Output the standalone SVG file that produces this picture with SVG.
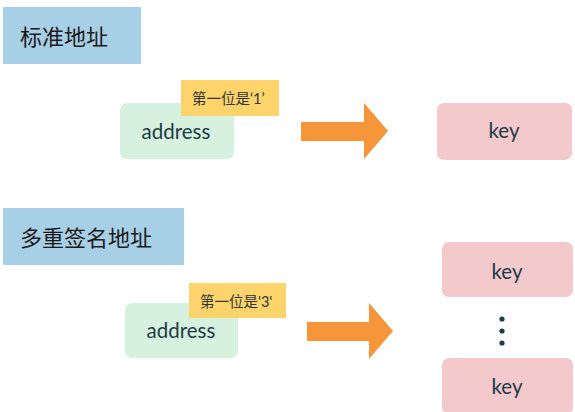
<svg xmlns="http://www.w3.org/2000/svg" width="575" height="412" viewBox="0 0 575 412">
<style>
.title{fill:#a7cfe6}
.titletext{font-family:"Noto Sans CJK SC","Noto Sans",sans-serif;font-size:22px;fill:#1a1a1a}
.addr{fill:#d6f2df}
.tag{fill:#fdd46b}
.tagtext{font-family:"Noto Sans CJK SC","Lato",sans-serif;font-size:14.5px;fill:#333}
.q{font-family:"Lato",sans-serif}
.key{fill:#f4c9cc}
.lbl{font-family:"Lato","Noto Sans",sans-serif;font-size:20.5px;fill:#1d3a47;text-anchor:middle}
.arrow{fill:#f7953a}
.dot{fill:#1d3a47}
</style>
<rect width="575" height="412" fill="#ffffff"/>
<g id="title1">
<rect class="title" x="3" y="7" width="138" height="57"/>
<text class="titletext" x="20" y="45">标准地址</text>
</g>
<g id="address1">
<rect class="addr" x="120" y="103" width="114" height="56" rx="7"/>
<text class="lbl" x="176" y="139">address</text>
</g>
<g id="tag1">
<rect class="tag" x="181" y="80" width="98" height="36"/>
<text class="tagtext" x="192" y="104">第一位是<tspan class="q">‘1’</tspan></text>
</g>
<g id="key1">
<rect class="key" x="437" y="103" width="135" height="57" rx="7"/>
<text class="lbl" x="504" y="138">key</text>
</g>
<g id="title2">
<rect class="title" x="3" y="208" width="181" height="57"/>
<text class="titletext" x="20" y="246">多重签名地址</text>
</g>
<g id="address2">
<rect class="addr" x="125" y="303" width="113" height="55" rx="7"/>
<text class="lbl" x="181" y="338">address</text>
</g>
<g id="tag2">
<rect class="tag" x="189" y="283" width="97" height="35"/>
<text class="tagtext" x="200" y="307">第一位是<tspan class="q">'3'</tspan></text>
</g>
<g id="key2">
<rect class="key" x="442" y="242" width="131" height="55" rx="7"/>
<text class="lbl" x="507" y="279">key</text>
</g>
<g id="dots">
<circle class="dot" cx="502" cy="319" r="2.6"/>
<circle class="dot" cx="502" cy="331" r="2.6"/>
<circle class="dot" cx="502" cy="343" r="2.6"/>
</g>
<g id="key3">
<rect class="key" x="442" y="358" width="131" height="56" rx="7"/>
<text class="lbl" x="507" y="394">key</text>
</g>
<g id="connectors">
<polygon class="arrow" points="301,122 364,122 364,103 388,131 364,159 364,141 301,141"/>
<polygon class="arrow" points="307,322 369,322 369,303 393,331 369,359 369,341 307,341"/>
</g>
</svg>
